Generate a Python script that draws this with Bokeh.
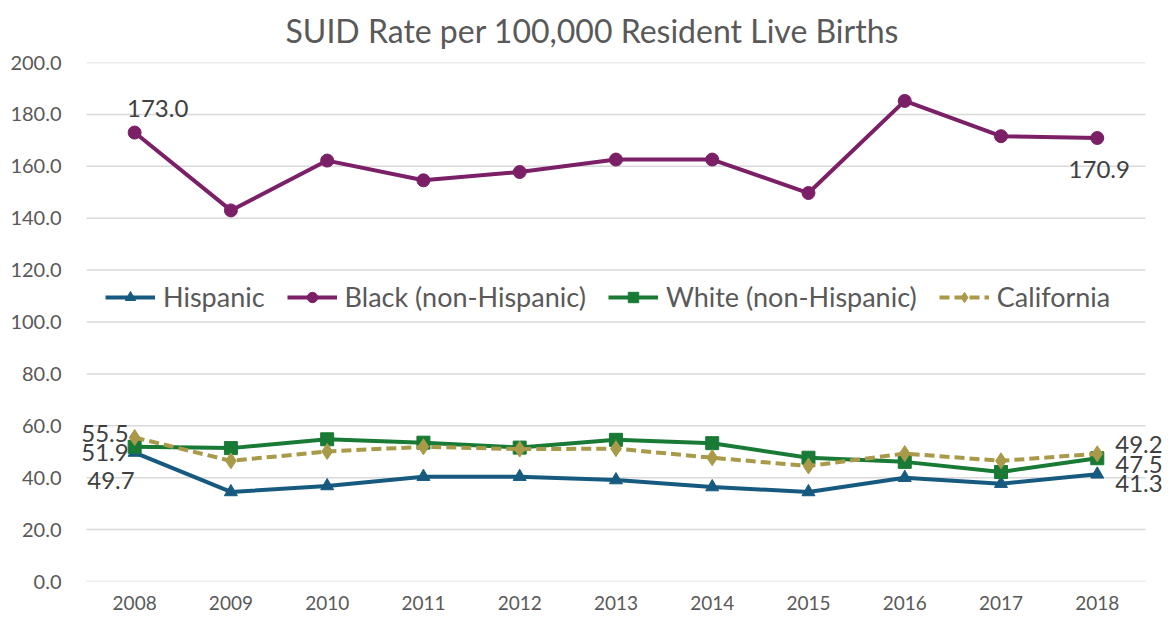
from bokeh.plotting import figure
from bokeh.models import Range1d, FixedTicker, NumeralTickFormatter, Legend, LegendItem, ColumnDataSource
from bokeh.core.properties import value
from bokeh.embed import file_html
from bokeh.resources import INLINE

years = [2008, 2009, 2010, 2011, 2012, 2013, 2014, 2015, 2016, 2017, 2018]
hispanic = [49.7, 34.5, 36.8, 40.4, 40.4, 39.1, 36.4, 34.5, 40.0, 37.7, 41.3]
black = [173.0, 143.0, 162.2, 154.6, 157.8, 162.6, 162.6, 149.7, 185.2, 171.6, 170.9]
white = [51.9, 51.4, 54.8, 53.5, 51.6, 54.6, 53.3, 47.7, 46.1, 42.2, 47.5]
california = [55.5, 46.5, 50.1, 51.9, 51.0, 51.2, 47.7, 44.5, 49.3, 46.5, 49.2]
y_ticks = [0, 20, 40, 60, 80, 100, 120, 140, 160, 180, 200]
series_names = ["Hispanic", "Black (non-Hispanic)", "White (non-Hispanic)", "California"]
title_text = "SUID Rate per 100,000 Resident Live Births"

FONT = "Lato"
TXT = "#595959"
colors = ["#175A80", "#7B2066", "#187A35", "#A99A49"]
markers = ["triangle", "circle", "square", "diamond"]
msizes = [13, 13, 13, 16]

x_lo = years[0] - 0.5
x_hi = years[-1] + 0.5

p = figure(width=1168, height=612, output_backend="svg", toolbar_location=None,
           x_range=Range1d(x_lo - 0.104, x_hi + 0.24), y_range=Range1d(0, 200),
           min_border_left=76, min_border_right=0, min_border_top=62, min_border_bottom=31)
p.outline_line_color = None
p.background_fill_color = "white"
p.border_fill_color = "white"

p.title.text = title_text
p.title.align = "left"
p.title.offset = 209
p.title.standoff = 21
p.title.vertical_align = "top"
p.title.text_font = FONT
p.title.text_font_size = "32px"
p.title.text_font_style = "normal"
p.title.text_color = TXT

p.xgrid.grid_line_color = None
p.ygrid.grid_line_color = None
# horizontal gridlines, limited to the category span
p.segment(x0=[x_lo] * len(y_ticks), x1=[x_hi] * len(y_ticks), y0=y_ticks, y1=y_ticks,
          line_color="#D9D9D9", line_width=1.5)

p.yaxis.ticker = FixedTicker(ticks=y_ticks)
p.yaxis.formatter = NumeralTickFormatter(format="0.0")
p.xaxis.ticker = FixedTicker(ticks=years)
for ax in (p.xaxis, p.yaxis):
    ax.axis_line_color = None
    ax.major_tick_line_color = None
    ax.minor_tick_line_color = None
    ax.major_label_text_font = FONT
    ax.major_label_text_color = TXT
p.yaxis.major_label_text_font_size = "20px"
p.xaxis.major_label_text_font_size = "19px"
p.yaxis.major_label_standoff = 9
p.xaxis.major_label_standoff = 8

all_series = [hispanic, black, white, california]
items = []
for name, vals, col, mk, ms in zip(series_names, all_series, colors, markers, msizes):
    src = ColumnDataSource(dict(x=years, y=vals))
    dash = "10 5" if name == "California" else "solid"
    ln = p.line("x", "y", source=src, line_color=col, line_width=4, line_dash=dash)
    sc = p.scatter("x", "y", source=src, marker=mk, size=ms, fill_color=col, line_color=col)
    items.append(LegendItem(label=name, renderers=[ln, sc]))

legend = Legend(items=items, orientation="horizontal", location=(29, 268),
                label_text_font=FONT, label_text_font_size="27px", label_text_color=TXT,
                glyph_width=50, glyph_height=26, label_standoff=8, spacing=22,
                padding=0, margin=0, border_line_alpha=0, background_fill_alpha=0)
p.add_layout(legend)

# data labels (first and last points)
lab_x = [years[0], years[-1], years[0], years[0], years[0], years[-1], years[-1], years[-1]]
lab_y = [black[0], black[-1], california[0], white[0], hispanic[0], california[-1], white[-1], hispanic[-1]]
lab_t = ["%.1f" % v for v in lab_y]
lab_align = ["center", "center", "right", "right", "right", "left", "left", "left"]
lab_dx = [23, 2, -6, -6, 0, 18, 18, 18]
lab_dy = [-24, 31, -4, 6, 28, -9, 6, 9]
lsrc = ColumnDataSource(dict(x=lab_x, y=lab_y, t=lab_t, a=lab_align, dx=lab_dx, dy=lab_dy))
p.text("x", "y", text="t", source=lsrc, text_align="a", text_baseline="middle",
       x_offset="dx", y_offset="dy", text_font=value(FONT), text_font_size="24px",
       text_color="#404040")

open("out.html", "w").write(file_html(p, INLINE))
